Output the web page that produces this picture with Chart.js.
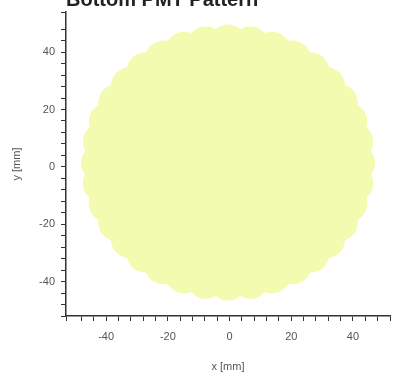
<!DOCTYPE html>
<html>
<head>
<meta charset="utf-8">
<script src="https://cdn.jsdelivr.net/npm/chart.js@4"></script>
<style>
    html, body { margin: 0; padding: 0; background: #fff; overflow: hidden; }
    #wrap { position: absolute; left: 0; top: -12px; width: 413px; height: 401px; }
</style>
</head>
<body>
<div id="wrap"><canvas id="patternChart"></canvas></div>
<script>
// core of the bottom PMT pattern, in mm
const coreX = [-0.5];
const coreY = [1.5];

// hits along the rim of the pattern, in mm
const rimX = [
    41.0, 40.4, 38.5, 35.4, 31.3, 26.2, 20.3, 13.7, 6.7,
    -0.5, -7.7, -14.7, -21.3, -27.2, -32.3, -36.4, -39.5, -41.4,
    -42.0, -41.4, -39.5, -36.4, -32.3, -27.2, -21.3, -14.7, -7.7,
    -0.5, 6.7, 13.7, 20.3, 26.2, 31.3, 35.4, 38.5, 40.4
];
const rimY = [
    1.5, 8.7, 15.7, 22.3, 28.2, 33.3, 37.4, 40.5, 42.4,
    43.0, 42.4, 40.5, 37.4, 33.3, 28.2, 22.3, 15.7, 8.7,
    1.5, -5.7, -12.7, -19.3, -25.2, -30.3, -34.4, -37.5, -39.4,
    -40.0, -39.4, -37.5, -34.4, -30.3, -25.2, -19.3, -12.7, -5.7
];

const tickLabels = [-40, -20, 0, 20, 40];

const toPoints = (xs, ys) => xs.map((x, i) => ({ x: x, y: ys[i] }));

Chart.defaults.font.family = "'Liberation Sans', Arial, sans-serif";
Chart.defaults.color = '#555';

function tickText(value) {
    return tickLabels.includes(value) ? String(value) : '';
}

const ctx = document.getElementById('patternChart').getContext('2d');
new Chart(ctx, {
    type: 'scatter',
    data: {
        datasets: [{
            data: toPoints(coreX, coreY),
            backgroundColor: '#f3fbb0',
            borderWidth: 0,
            pointRadius: 124,
            pointHoverRadius: 124
        }, {
            data: toPoints(rimX, rimY),
            backgroundColor: '#f3fbb0',
            borderWidth: 0,
            pointRadius: 19,
            pointHoverRadius: 19
        }]
    },
    options: {
        responsive: true,
        maintainAspectRatio: false,
        animation: false,
        layout: {
            autoPadding: false,
            padding: { top: 0, right: 23, bottom: 0, left: 0 }
        },
        plugins: {
            legend: { display: false },
            tooltip: { enabled: false },
            title: {
                display: true,
                text: 'Bottom PMT Pattern',
                align: 'start',
                fullSize: false,
                color: '#222',
                font: { size: 20, weight: 'bold' },
                padding: { top: 0, bottom: 0 }
            }
        },
        scales: {
            x: {
                type: 'linear',
                min: -53,
                max: 52,
                afterFit: (scale) => { scale.height = 73; },
                grid: {
                    drawOnChartArea: false,
                    drawTicks: true,
                    tickLength: 5,
                    color: '#333'
                },
                border: { display: true, color: '#333', width: 1.5 },
                ticks: {
                    stepSize: 4,
                    autoSkip: false,
                    maxRotation: 0,
                    padding: 9,
                    font: { size: 11 },
                    callback: tickText
                },
                title: {
                    display: true,
                    text: 'x [mm]',
                    font: { size: 11 },
                    padding: { top: 0, bottom: 15 }
                }
            },
            y: {
                type: 'linear',
                min: -52,
                max: 54,
                afterFit: (scale) => { scale.width = 66; },
                grid: {
                    drawOnChartArea: false,
                    drawTicks: true,
                    tickLength: 5,
                    color: '#333'
                },
                border: { display: true, color: '#333', width: 1.5 },
                ticks: {
                    stepSize: 4,
                    autoSkip: false,
                    padding: 6,
                    font: { size: 11 },
                    callback: tickText
                },
                title: {
                    display: true,
                    text: 'y [mm]',
                    font: { size: 11 },
                    padding: { top: 10, bottom: 4 }
                }
            }
        }
    }
});
</script>
</body>
</html>
